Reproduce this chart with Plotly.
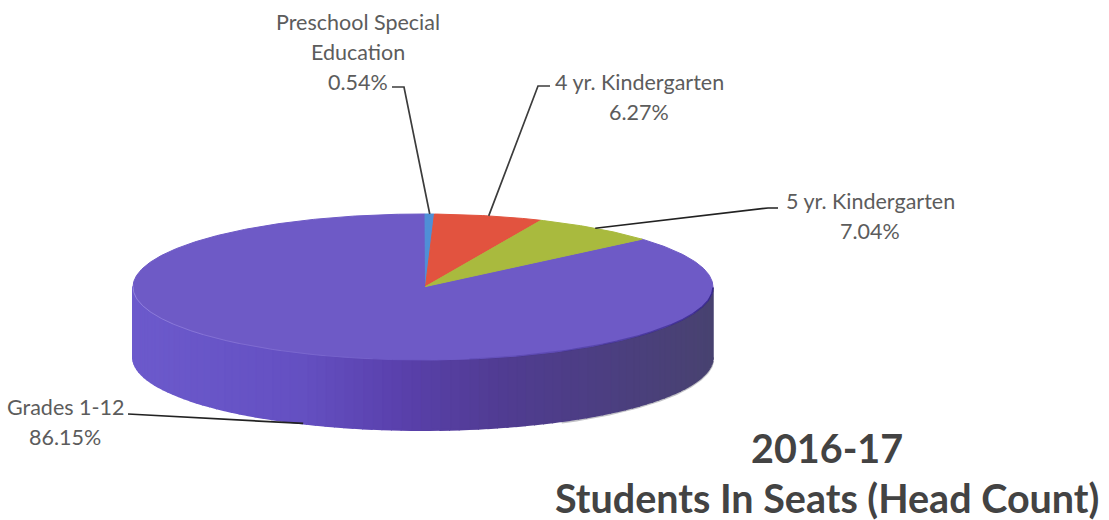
import math
import plotly.graph_objects as go

# ---- data ----
categories = [["Preschool Special", "Education"], ["4 yr. Kindergarten"], ["5 yr. Kindergarten"], ["Grades 1-12"]]
shares = [0.54, 6.27, 7.04, 86.15]
slice_colors = ["#4f8fd6", "#e2533f", "#a9ba3e", "#6e5ac6"]
title_lines = ["2016-17", "Students In Seats (Head Count)"]

# ---- pie geometry (in axis units = pixels) ----
CX, CY, RX, RY, DEPTH = 423.0, 287.0, 290.0, 73.0, 70.0
APEX_X, APEX_Y = 425.5, 286.5
ROT = 0.4
STEP = 0.5
PERSPECTIVE = 1.2
side_stops = [(132, (108, 90, 204)), (300, (100, 80, 194)), (400, (90, 64, 172)),
              (500, (80, 60, 146)), (600, (76, 62, 130)), (712, (72, 66, 112))]


def rim(deg, drop=0.0):
    d = deg - PERSPECTIVE * math.sin(math.radians(2 * deg))
    a = math.radians(d + ROT)
    return CX + RX * math.sin(a), CY - RY * math.cos(a) + drop


def arc(a0, a1, drop=0.0):
    n = max(2, int(abs(a1 - a0) / STEP) + 1)
    return [rim(a0 + (a1 - a0) * i / (n - 1), drop) for i in range(n)]


def side_color(x):
    for (x0, c0), (x1, c1) in zip(side_stops, side_stops[1:]):
        if x <= x1:
            f = max(0.0, (x - x0) / (x1 - x0))
            return "rgb(%d,%d,%d)" % tuple(round(p + (q - p) * f) for p, q in zip(c0, c1))
    return "rgb(%d,%d,%d)" % side_stops[-1][1]


def poly(fig, pts, color, lw=1):
    fig.add_trace(go.Scatter(x=[p[0] for p in pts], y=[p[1] for p in pts], mode="lines",
                             fill="toself", fillcolor=color,
                             line=dict(color=color, width=lw),
                             hoverinfo="skip", showlegend=False))


def stroke(fig, pts, color, w):
    fig.add_trace(go.Scatter(x=[p[0] for p in pts], y=[p[1] for p in pts], mode="lines",
                             line=dict(color=color, width=w), hoverinfo="skip", showlegend=False))


fig = go.Figure()

# soft shadow under the right of the wall
stroke(fig, arc(92, 150, DEPTH + 1), "rgba(120,120,130,0.45)", 3)

# side wall: strips along the visible lower half of the rim, drawn so each overlaps the last
a = 90.0
while a < 270.0:
    b = min(a + 2.0, 270.0)
    pts = arc(a, b) + arc(b, a, DEPTH)
    xm = sum(p[0] for p in pts) / len(pts)
    poly(fig, pts, side_color(xm), lw=2)
    a = b

# top face
total = sum(shares)
cum = 0.0
order = [3, 0, 1, 2]
bounds = {}
for i, s in enumerate(shares):
    bounds[i] = (cum / total * 360.0, (cum + s) / total * 360.0)
    cum += s
for i in order:
    a0, a1 = bounds[i]
    pts = [(APEX_X, APEX_Y)] + arc(a0, a1) + [(APEX_X, APEX_Y)]
    poly(fig, pts, slice_colors[i])

# seams that fade along the front rim
for k in range(8):
    stroke(fig, arc(90 + k * 10, 100 + k * 10), "rgba(50,34,135,%.2f)" % (0.9 - k * 0.11), 1.5)
for k in range(8):
    stroke(fig, arc(270 - k * 10, 260 - k * 10), "rgba(165,150,235,%.2f)" % (0.7 - k * 0.08), 1)

# leader lines: start at each slice's mid-angle on the rim
elbows = [[(404, 87), (392, 87)], [(538, 86), (550, 86)], [(768, 208), (778, 208)], [(128, 414)]]
drops = [0, 0, 0, DEPTH]
leader_colors = ["#3c3c3c", "#3c3c3c", "#222222", "#222222"]
for i, e in enumerate(elbows):
    a0, a1 = bounds[i]
    pts = [rim((a0 + a1) / 2, drops[i])] + e
    stroke(fig, pts, leader_colors[i], 1.7)

# labels, one annotation per line (the source has a wide line pitch)
label_pos = [(358, 22), (639, 82), (870, 201), (65, 407)]
FONT = "Lato"
for cat, s, (x, y) in zip(categories, shares, label_pos):
    for j, line in enumerate(cat + [f"{s:.2f}%"]):
        fig.add_annotation(x=x, y=y + j * 30, xref="x", yref="y", text=line, showarrow=False,
                           font=dict(family=FONT, size=21.5, color="#5c5c5c"))

title_y = [447, 497]
for t, y in zip(title_lines, title_y):
    fig.add_annotation(x=827, y=y, xref="x", yref="y", text=f"<b>{t}</b>", showarrow=False,
                       font=dict(family=FONT, size=39.5, color="#434343"))

fig.update_layout(width=1109, height=520, margin=dict(l=0, r=0, t=0, b=0),
                  paper_bgcolor="white", plot_bgcolor="white", showlegend=False,
                  xaxis=dict(range=[0, 1109], visible=False, fixedrange=True),
                  yaxis=dict(range=[520, 0], visible=False, fixedrange=True))

fig.write_html("out.html", post_script="document.body.style.margin='0';", config={"displayModeBar": False})
